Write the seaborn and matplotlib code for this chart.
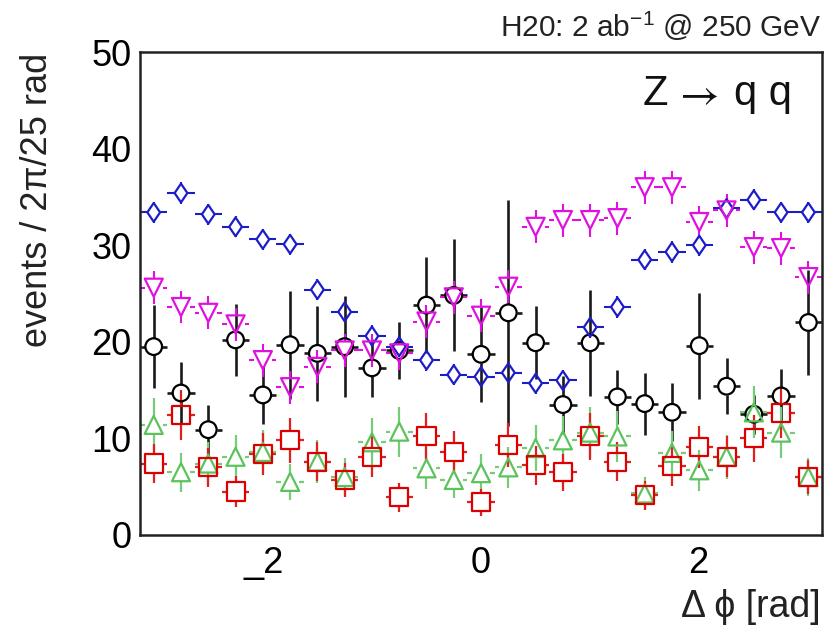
import numpy as np
import pandas as pd
import matplotlib
matplotlib.use("Agg")
import matplotlib.pyplot as plt
from matplotlib.collections import LineCollection
from matplotlib.path import Path
import seaborn as sns

# 25 bins of width 2*pi/25 covering the full azimuthal range
n_bins = 25
edges = np.linspace(-np.pi, np.pi, n_bins + 1)
dphi = 0.5 * (edges[:-1] + edges[1:])
half_bin = 0.5 * (edges[1] - edges[0])

# bin contents and uncertainties per sample
blue_vals = [33.4, 35.4, 33.2, 31.9, 30.6, 30.1, 25.4, 23.1, 20.6, 19.5, 18.1, 16.6, 16.4,
             16.8, 15.7, 16.0, 21.5, 23.6, 28.5, 29.3, 30.0, 33.8, 34.7, 33.4, 33.4]
blue_errs = [1.1] * 25

magenta_vals = [25.6, 23.6, 23.0, 21.8, 18.1, 15.3, 17.4, 19.1, 19.1, 18.8, 22.1, 24.6, 22.7,
                25.7, 31.9, 32.6, 32.6, 32.8, 36.0, 36.0, 32.4, 33.6, 29.8, 29.7, 26.7]
magenta_errs = [1.7] * 25

black_vals = [19.5, 14.7, 10.9, 20.2, 14.5, 19.7, 18.8, 19.5, 17.3, 19.1, 23.8, 24.8, 18.7,
              23.0, 19.9, 13.5, 19.9, 14.3, 13.6, 12.7, 19.6, 15.4, 12.5, 14.4, 22.0]
black_errs = [4.3, 3.2, 2.6, 3.7, 3.0, 5.6, 4.9, 5.2, 3.0, 3.0, 5.0, 5.8, 4.9,
              11.7, 3.8, 3.0, 5.5, 2.8, 3.2, 3.0, 5.5, 2.9, 2.0, 2.8, 5.4]

green_vals = [11.4, 6.5, 7.4, 8.1, 8.6, 5.5, 7.6, 6.0, 9.6, 10.7, 6.9, 5.7, 6.4,
              7.0, 9.0, 9.8, 10.6, 10.2, 4.3, 8.5, 6.7, 8.1, 12.7, 10.6, 6.0]
green_errs = [2.8, 2.0, 2.2, 2.3, 2.3, 1.9, 2.2, 2.0, 2.5, 2.6, 2.1, 1.9, 2.0,
              2.1, 2.4, 2.5, 2.6, 2.6, 1.7, 2.3, 2.1, 2.3, 2.7, 2.6, 2.0]

red_vals = [7.4, 12.4, 7.0, 4.5, 8.4, 9.8, 7.6, 5.7, 8.1, 3.9, 10.2, 8.6, 3.4,
            9.3, 7.2, 6.5, 10.2, 7.6, 4.1, 7.1, 9.1, 8.1, 10.0, 12.6, 6.0]
red_errs = [2.0, 2.6, 2.0, 1.6, 2.2, 2.3, 2.0, 1.8, 2.1, 1.5, 2.4, 2.2, 1.4,
            2.3, 2.0, 1.9, 2.4, 2.0, 1.5, 2.0, 2.2, 2.1, 2.4, 2.6, 1.8]

x_ticks = [-2, 0, 2]
x_tick_labels = ["_2", "0", "2"]
y_ticks = [0, 10, 20, 30, 40, 50]

# open diamond, a little wider than matplotlib's thin diamond
diamond = Path([(0, 1), (0.68, 0), (0, -1), (-0.68, 0), (0, 1)],
               [Path.MOVETO, Path.LINETO, Path.LINETO, Path.LINETO, Path.CLOSEPOLY])

# marker, size (points), half extent of the marker box (x, y) as a fraction of size
series = [
    ("black", black_vals, black_errs, "o", 12.0, (0.5, 0.5), "#000000", "#1a1a1a", 1.9),
    ("blue", blue_vals, blue_errs, diamond, 13.5, (0.34, 0.5), "#1c1cc8", "#1c1cc8", 1.5),
    ("magenta", magenta_vals, magenta_errs, "v", 13.0, (0.5, 0.5), "#e010e0", "#e010e0", 1.5),
    ("green", green_vals, green_errs, "^", 13.0, (0.5, 0.5), "#5cc25c", "#78cc78", 1.6),
    ("red", red_vals, red_errs, "s", 13.0, (0.5, 0.5), "#dd0000", "#e02020", 1.6),
]

sns.set_theme(style="white")
plt.rcParams["font.family"] = ["Liberation Sans", "DejaVu Sans"]
plt.rcParams["mathtext.fontset"] = "custom"
plt.rcParams["mathtext.rm"] = "Liberation Sans"
plt.rcParams["mathtext.it"] = "Liberation Sans"

fig = plt.figure(figsize=(8.24, 6.26), dpi=100)
ax = fig.add_axes([0.170, 0.1454, 0.8276, 0.7715])
ax.set_xlim(-np.pi, np.pi)
ax.set_ylim(0, 50)

# data units per pixel, used to leave the marker interior free of error bars
p0 = ax.transData.transform((0, 0))
p1 = ax.transData.transform((1, 1))
px_x = p1[0] - p0[0]
px_y = p1[1] - p0[1]
pt2px = fig.dpi / 72.0

for name, vals, errs, marker, msize, box, color, barcolor, lw in series:
    vals = np.asarray(vals)
    errs = np.asarray(errs)
    gx = box[0] * msize * pt2px / px_x
    gy = box[1] * msize * pt2px / px_y
    segs = []
    for x, y, e in zip(dphi, vals, errs):
        segs.append([(x - half_bin, y), (x - gx, y)])
        segs.append([(x + gx, y), (x + half_bin, y)])
        if e > gy:
            segs.append([(x, y - e), (x, y - gy)])
            segs.append([(x, y + gy), (x, y + e)])
    ax.add_collection(LineCollection(segs, colors=barcolor, linewidths=lw, zorder=2))
    df = pd.DataFrame({"dphi": dphi, "events": vals})
    sns.scatterplot(data=df, x="dphi", y="events", ax=ax, marker=marker,
                    s=msize ** 2, facecolors="none", edgecolors=color,
                    linewidths=1.6, zorder=3, legend=False)

ax.set_xlim(-np.pi, np.pi)
ax.set_ylim(0, 50)
ax.set_xticks(x_ticks)
ax.set_xticklabels(x_tick_labels)
ax.set_yticks(y_ticks)
ax.tick_params(axis="both", direction="in", labelsize=26, width=1.6, colors="black")
ax.tick_params(axis="y", length=14, pad=6)
ax.tick_params(axis="x", length=11, pad=8)
for side in ["left", "bottom", "top", "right"]:
    ax.spines[side].set_visible(True)
    ax.spines[side].set_color("#222222")
    ax.spines[side].set_linewidth(1.8)

ax.set_xlabel("")
ax.set_ylabel("")
fig.text(0.046, 0.915, "events / 2\u03c0/25 rad", rotation=90, ha="center", va="top",
         fontsize=26, color="#222222")
fig.text(0.996, 0.030, "\u0394 \u03d5 [rad]", ha="right", va="center",
         fontsize=27, color="#222222")
fig.text(0.996, 0.958, "H20: 2 ab$^{-1}$ @ 250 GeV", ha="right", va="center",
         fontsize=21.5, color="#222222")

# process label: Z -> q q
ax.text(0.7375, 0.890, "Z", transform=ax.transAxes, ha="left", va="baseline",
        fontsize=30, color="#111111")
ax.text(0.814, 0.890, r"$\rightarrow$", transform=ax.transAxes, ha="center",
        va="baseline", fontsize=31, color="#111111", math_fontfamily="stix")
ax.text(0.956, 0.890, "q q", transform=ax.transAxes, ha="right", va="baseline",
        fontsize=30, color="#111111")

fig.savefig("out.png", dpi=100)
